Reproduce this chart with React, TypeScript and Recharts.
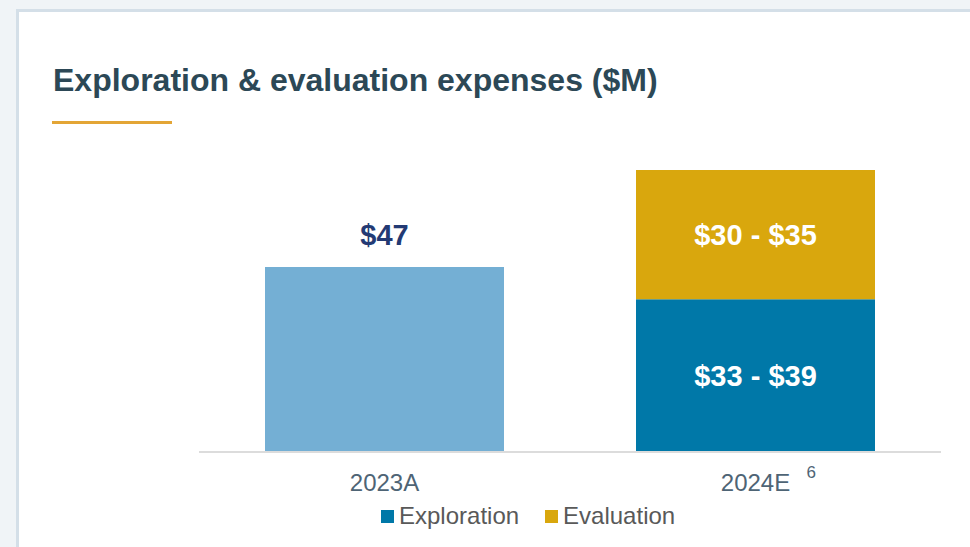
import React from 'react';
import { Bar, BarChart, LabelList, Legend, XAxis, YAxis } from 'recharts';

// values, $M
const categories = ['2023A', '2024E'];
const actualValues = [47, null];
const explorationValues = [null, 38.8];
const evaluationValues = [null, 32.8];
const actualLabels = ['$47', ''];
const explorationLabels = ['', '$33 - $39'];
const evaluationLabels = ['', '$30 - $35'];
const tickNotes: Record<string, string> = { '2024E': '6' };

const colours = {
  actual: '#74afd4',
  exploration: '#0078a8',
  evaluation: '#d9a70d',
};

const data = categories.map((name, i) => ({
  name,
  actual: actualValues[i],
  exploration: explorationValues[i],
  evaluation: evaluationValues[i],
  actualLabel: actualLabels[i],
  explorationLabel: explorationLabels[i],
  evaluationLabel: evaluationLabels[i],
}));

const FONT = '"Liberation Sans", Arial, sans-serif';

const CategoryTick = (props: any) => {
  const { x, y, payload } = props;
  const note = tickNotes[payload.value];
  return (
    <g>
      <text x={x} y={y + 39} textAnchor="middle" fill="#4e6475" fontSize={24} fontFamily={FONT}>
        {payload.value}
      </text>
      {note && (
        <text x={x + 51} y={y + 26} textAnchor="start" fill="#4e6475" fontSize={17} fontFamily={FONT}>
          {note}
        </text>
      )}
    </g>
  );
};

const legendItems = [
  { label: 'Exploration', colour: colours.exploration },
  { label: 'Evaluation', colour: colours.evaluation },
];

const LegendContent = () => (
  <div style={{ display: 'flex', alignItems: 'center', fontFamily: FONT }}>
    {legendItems.map((item) => (
      <div key={item.label} style={{ display: 'flex', alignItems: 'center', marginRight: 26 }}>
        <span style={{ width: 13, height: 13, background: item.colour, display: 'inline-block', marginRight: 5 }} />
        <span style={{ fontSize: 24, color: '#595959', lineHeight: '28px' }}>{item.label}</span>
      </div>
    ))}
  </div>
);

const App: React.FC = () => {
  return (
    <div style={styles.page}>
      <style>{'body{margin:0}'}</style>
      <div style={styles.card} />
      <div style={styles.title}>Exploration &amp; evaluation expenses ($M)</div>
      <div style={styles.underline} />
      <div style={{ position: 'absolute', left: 0, top: 0 }}>
        <BarChart
          width={970}
          height={547}
          data={data}
          margin={{ top: 137, right: 29, left: 199, bottom: 65 }}
          barSize={239}
        >
          <XAxis
            dataKey="name"
            height={30}
            tickLine={false}
            tickSize={0}
            tickMargin={0}
            axisLine={{ stroke: '#dcdcdc', strokeWidth: 2 }}
            tick={<CategoryTick />}
            interval={0}
          />
          <YAxis hide domain={[0, 80]} />
          <Legend
            verticalAlign="middle"
            layout="horizontal"
            content={<LegendContent />}
            wrapperStyle={{ top: 502, left: 381, width: 'auto' }}
          />
          <Bar dataKey="actual" stackId="a" fill={colours.actual} legendType="none" isAnimationActive={false}>
            <LabelList
              dataKey="actualLabel"
              position="top"
              offset={22}
              fill="#233a74"
              fontSize={29}
              fontWeight="bold"
              fontFamily={FONT}
            />
          </Bar>
          <Bar dataKey="exploration" stackId="a" fill={colours.exploration} isAnimationActive={false}>
            <LabelList
              dataKey="explorationLabel"
              position="center"
              fill="#ffffff"
              fontSize={29}
              fontWeight="bold"
              fontFamily={FONT}
            />
          </Bar>
          <Bar dataKey="evaluation" stackId="a" fill={colours.evaluation} isAnimationActive={false}>
            <LabelList
              dataKey="evaluationLabel"
              position="center"
              fill="#ffffff"
              fontSize={29}
              fontWeight="bold"
              fontFamily={FONT}
            />
          </Bar>
        </BarChart>
      </div>
    </div>
  );
};

const styles: Record<string, React.CSSProperties> = {
  page: {
    position: 'relative',
    width: 970,
    height: 547,
    overflow: 'hidden',
    background: '#f0f4f7',
    fontFamily: FONT,
  },
  card: {
    position: 'absolute',
    left: 16,
    top: 9,
    width: 980,
    height: 560,
    background: '#ffffff',
    border: '3px solid #d4dfe8',
  },
  title: {
    position: 'absolute',
    left: 53,
    top: 64,
    fontSize: 32,
    lineHeight: '32px',
    fontWeight: 'bold',
    color: '#2c4856',
    whiteSpace: 'nowrap',
  },
  underline: {
    position: 'absolute',
    left: 52,
    top: 121,
    width: 120,
    height: 3,
    background: '#e3a535',
  },
};

export default App;
